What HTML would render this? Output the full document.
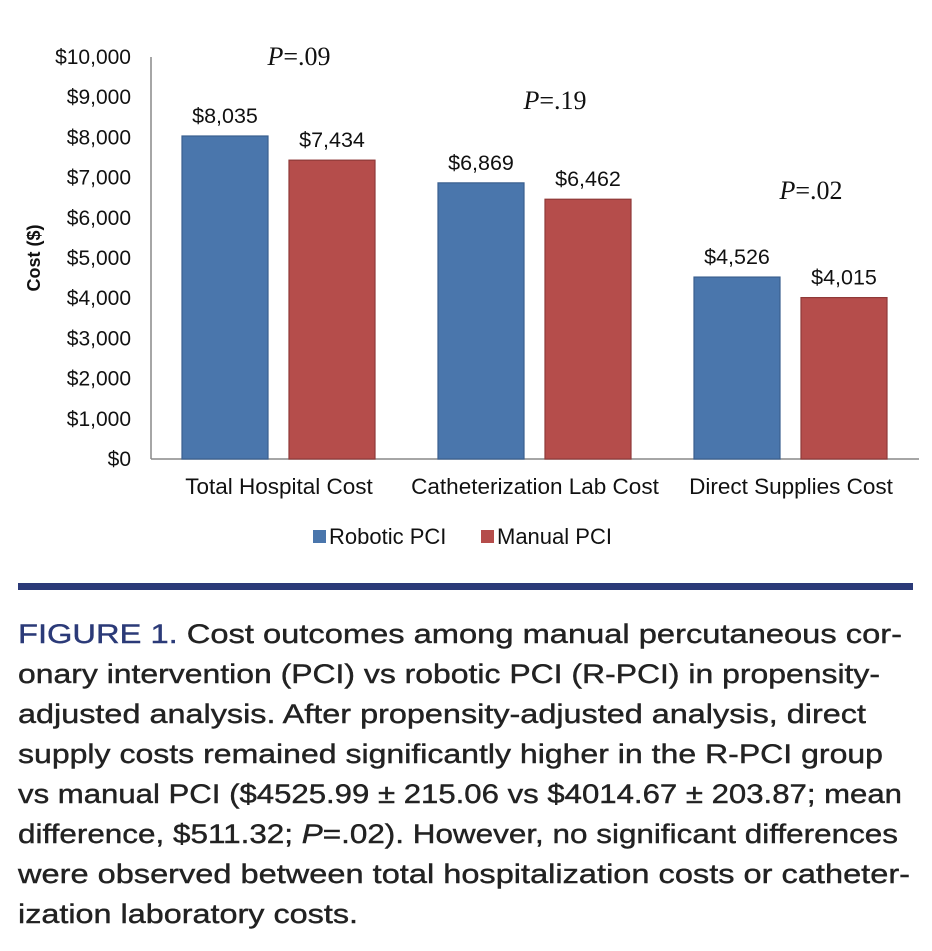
<!DOCTYPE html>
<html><head><meta charset="utf-8"><style>
body{margin:0;background:#fff;width:932px;height:946px;overflow:hidden}
svg text{font-family:"Liberation Sans",sans-serif}
svg text.serif{font-family:"Liberation Serif",serif}
</style></head><body>
<svg id="chart" width="932" height="946" xmlns="http://www.w3.org/2000/svg">
<g id="plot"></g>
<rect x="18" y="583" width="895" height="7" fill="#2b3a78"/>
<g font-size="27" fill="#222" stroke="#222" stroke-width="0.4">
<text x="18" y="643" textLength="884" lengthAdjust="spacingAndGlyphs"><tspan fill="#2b3a78" stroke="#2b3a78">FIGURE 1.</tspan> Cost outcomes among manual percutaneous cor-</text>
<text x="18" y="683" textLength="862" lengthAdjust="spacingAndGlyphs">onary intervention (PCI) vs robotic PCI (R-PCI) in propensity-</text>
<text x="18" y="723" textLength="848" lengthAdjust="spacingAndGlyphs">adjusted analysis. After propensity-adjusted analysis, direct</text>
<text x="18" y="763" textLength="865" lengthAdjust="spacingAndGlyphs">supply costs remained significantly higher in the R-PCI group</text>
<text x="18" y="803" textLength="884" lengthAdjust="spacingAndGlyphs">vs manual PCI ($4525.99 ± 215.06 vs $4014.67 ± 203.87; mean</text>
<text x="18" y="843" textLength="880" lengthAdjust="spacingAndGlyphs">difference, $511.32; <tspan font-style="italic">P</tspan>=.02). However, no significant differences</text>
<text x="18" y="883" textLength="892" lengthAdjust="spacingAndGlyphs">were observed between total hospitalization costs or catheter-</text>
<text x="18" y="923" textLength="340" lengthAdjust="spacingAndGlyphs">ization laboratory costs.</text>
</g>
</svg>
<script>
const categories=["Total Hospital Cost","Catheterization Lab Cost","Direct Supplies Cost"];
const robotic=[8035,6869,4526];
const manual=[7434,6462,4015];
const pvalues=[".09",".19",".02"];
const yTicks=[0,1000,2000,3000,4000,5000,6000,7000,8000,9000,10000];
const NS="http://www.w3.org/2000/svg";
const g=document.getElementById('plot');
const x0=151,gw=256,yBase=459,yTop=57,yMax=10000;
const y=v=>yBase-(v/yMax)*(yBase-yTop);
function mk(t,a,txt){const e=document.createElementNS(NS,t);for(const k in a)e.setAttribute(k,a[k]);if(txt!=null)e.textContent=txt;g.appendChild(e);return e;}
yTicks.forEach(v=>{const e=mk('text',{x:131,y:y(v)+7,'text-anchor':'end','font-size':21,fill:'#111'},'$'+v.toLocaleString('en-US'));

});
const yl=mk('line',{x1:x0,y1:yTop,x2:x0,y2:yBase,stroke:'#888','stroke-width':1.5});


const xl=mk('line',{x1:x0,y1:yBase,x2:x0+3*gw,y2:yBase,stroke:'#888','stroke-width':1.5});


const yt=mk('text',{x:0,y:0,transform:'translate(40,258) rotate(-90)','text-anchor':'middle','font-size':18,'font-weight':'bold',fill:'#111'},'Cost ($)');


const pY=[57,101,191];
categories.forEach((c,i)=>{
 const cx=x0+gw*i+gw/2;
 const series=[[robotic[i],cx-97,'#4a76ac','#3a5f8f','bar-robotic'],[manual[i],cx+10,'#b54d4b','#8f3a38','bar-manual']];
 series.forEach(([v,bx,f,s,n])=>{
  const r=mk('rect',{x:bx,y:y(v),width:86,height:yBase-y(v),fill:f,stroke:s,'stroke-width':1.2});
  
  
  const t=mk('text',{x:bx+43,y:y(v)-13,'text-anchor':'middle','font-size':21.5,fill:'#111'},'$'+v.toLocaleString('en-US'));
  
  
 });
 const cl=mk('text',{x:cx,y:494,'text-anchor':'middle','font-size':22.5,fill:'#111'},c);
 
 
 const p=mk('text',{x:cx+20,y:pY[i]+8,'text-anchor':'middle','font-size':26,fill:'#111','class':'serif'});
 p.innerHTML='<tspan font-style="italic">P</tspan>='+pvalues[i];
 
 
});
[['Robotic PCI',313,'#4a76ac'],['Manual PCI',481,'#b54d4b']].forEach(([n,lx,col])=>{
 const r=mk('rect',{x:lx,y:530,width:13,height:13,fill:col});
 
 
 const t=mk('text',{x:lx+16,y:544,'font-size':22,fill:'#111'},n);
 
 
});
</script>
</body></html>
